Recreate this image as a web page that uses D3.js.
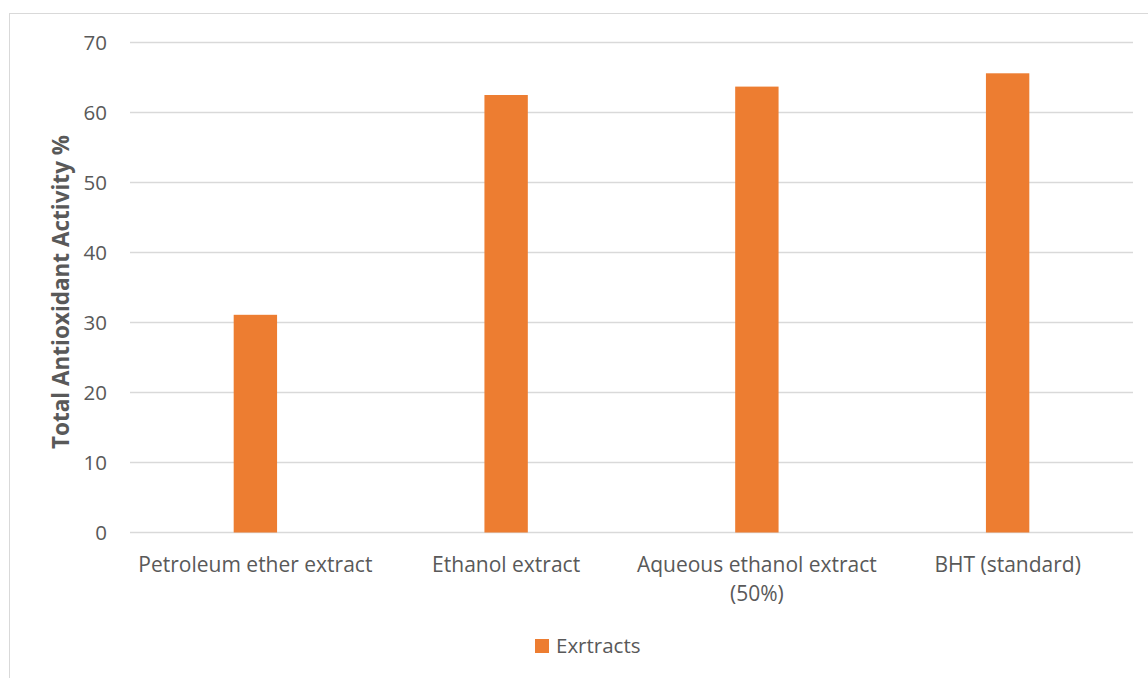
<!DOCTYPE html>
<html>
<head>
<meta charset="utf-8">
<script src="https://cdn.jsdelivr.net/npm/d3@7"></script>
<style>
  html, body { margin: 0; padding: 0; background: #fff; }
  svg { display: block; }
  text { font-family: "Open Sans", "Noto Sans", sans-serif; fill: #595959; }
</style>
</head>
<body>
<script>
// Total antioxidant activity of extracts versus the BHT standard
const categories = [
  ["Petroleum ether extract"],
  ["Ethanol extract"],
  ["Aqueous ethanol extract", "(50%)"],
  ["BHT (standard)"]
];
const values = [31.1, 62.5, 63.7, 65.6];
const yTicks = [0, 10, 20, 30, 40, 50, 60, 70];
const seriesName = "Exrtracts";
const yTitle = "Total Antioxidant Activity %";

const W = 1148, H = 678;
const plot = { left: 130, right: 1133, top: 42.5, bottom: 532.5 };

const svg = d3.select("body").append("svg")
  .attr("width", W).attr("height", H);

// chart frame
svg.append("rect")
  .attr("x", 9.5).attr("y", 13.5)
  .attr("width", W + 10).attr("height", H + 10)
  .attr("fill", "none").attr("stroke", "#d9d9d9").attr("stroke-width", 1);

const x = d3.scaleBand()
  .domain(categories.map((d, i) => i))
  .range([plot.left, plot.right])
  .paddingInner(0)
  .paddingOuter(0);

const y = d3.scaleLinear()
  .domain([0, 70])
  .range([plot.bottom, plot.top]);

// horizontal gridlines
svg.append("g")
  .selectAll("line")
  .data(yTicks)
  .join("line")
  .attr("x1", plot.left).attr("x2", plot.right)
  .attr("y1", d => y(d)).attr("y2", d => y(d))
  .attr("stroke", "#d9d9d9").attr("stroke-width", 1.3);

// y tick labels
svg.append("g")
  .selectAll("text")
  .data(yTicks)
  .join("text")
  .attr("x", 107)
  .attr("y", d => y(d))
  .attr("dy", "0.35em")
  .attr("text-anchor", "end")
  .attr("font-size", 20.5)
  .text(d => d);

// bars
const barFrac = 0.173;
svg.append("g")
  .selectAll("rect")
  .data(values)
  .join("rect")
  .attr("x", (d, i) => x(i) + x.bandwidth() * (1 - barFrac) / 2)
  .attr("width", x.bandwidth() * barFrac)
  .attr("y", d => y(d))
  .attr("height", d => y(0) - y(d))
  .attr("fill", "#ED7D31");

// category labels
const catG = svg.append("g");
categories.forEach((lines, i) => {
  const t = catG.append("text")
    .attr("x", x(i) + x.bandwidth() / 2)
    .attr("y", 572)
    .attr("text-anchor", "middle")
    .attr("font-size", 21);
  lines.forEach((ln, j) => {
    t.append("tspan")
      .attr("x", x(i) + x.bandwidth() / 2)
      .attr("dy", j === 0 ? 0 : 29)
      .text(ln);
  });
});

// y axis title
svg.append("text")
  .attr("transform", `translate(69, 292) rotate(-90)`)
  .attr("text-anchor", "middle")
  .attr("font-size", 22.5)
  .attr("font-weight", "bold")
  .text(yTitle);

// legend
const lg = svg.append("g");
lg.append("rect")
  .attr("x", 535).attr("y", 639)
  .attr("width", 14).attr("height", 14)
  .attr("fill", "#ED7D31");
lg.append("text")
  .attr("x", 556).attr("y", 653)
  .attr("font-size", 20.5)
  .text(seriesName);
</script>
</body>
</html>
